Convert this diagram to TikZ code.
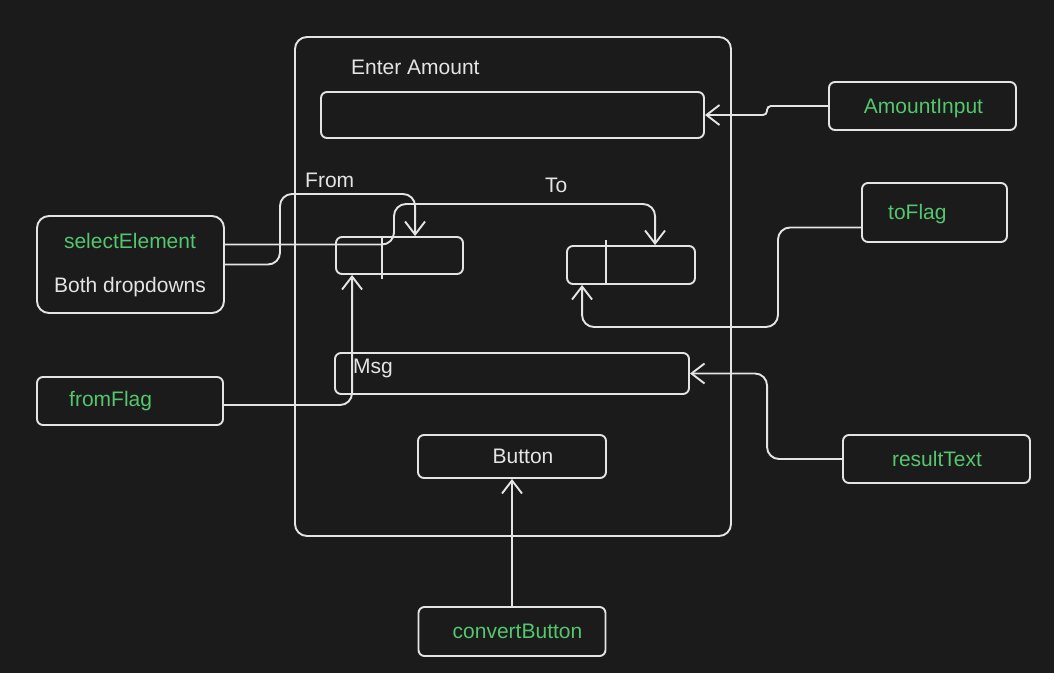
\documentclass[tikz,border=0pt]{standalone}
\usepackage{fontspec}
\setmainfont{Liberation Sans}
\usetikzlibrary{arrows.meta,calc}
\definecolor{bgc}{RGB}{27,27,27}
\definecolor{ink}{RGB}{228,228,228}
\definecolor{grn}{RGB}{84,198,110}

\begin{document}
\begin{tikzpicture}[x=1pt,y=-1pt,
		box/.style={draw=ink,line width=1.9pt,rounded corners=6pt,inner sep=0pt},
		txt/.style={text=ink,inner sep=0pt,font=\fontsize{21}{25}\selectfont},
		gtxt/.style={txt,text=grn},
		conn/.style={draw=ink,line width=1.9pt,rounded corners=12pt,-{Straight Barb[length=13pt,width=20pt]}}]
		\fill[bgc] (0,0) rectangle (1054,673);
		\useasboundingbox (0,0) rectangle (1054,673);
		% the form
		\node[box,rounded corners=12pt,minimum width=436pt,minimum height=499pt] (frame) at (513,286.5) {};
		\node[box,minimum width=383pt,minimum height=46pt] (amount) at (512.5,115) {};
		\node[box,minimum width=127pt,minimum height=37pt] (fromdd) at (399.5,255.5) {};
		\node[box,minimum width=128pt,minimum height=38pt] (todd) at (631,265) {};
		\node[box,minimum width=354pt,minimum height=41pt] (msg) at (512,373.5) {};
		\node[box,minimum width=188pt,minimum height=43pt] (btn) at (512,456.5) {};
		\draw[ink,line width=1.9pt] ([xshift=47pt]fromdd.north west) -- ++(0,43);
		\draw[ink,line width=1.9pt] ([xshift=40pt,yshift=5pt]todd.north west) -- ++(0,44);
		\node[txt,anchor=base west] (entertxt) at (351,74) {Enter Amount};
		\node[txt,anchor=base west] (fromtxt) at (305,187) {From};
		\node[txt,anchor=base west] (totxt) at (545,192) {To};
		\node[txt,anchor=base west] (msgtxt) at (353,373) {Msg};
		\node[txt,anchor=base] (btntxt) at (523,463) {Button};
		% the elements
		\node[box,rounded corners=12pt,minimum width=187pt,minimum height=97pt] (selel) at (130.5,264.5) {};
		\node[box,minimum width=186pt,minimum height=48pt] (fromflag) at (130,401) {};
		\node[box,minimum width=187pt,minimum height=48pt] (amtin) at (922.5,106) {};
		\node[box,minimum width=145pt,minimum height=59pt] (toflag) at (934.5,212.5) {};
		\node[box,minimum width=187pt,minimum height=48pt] (restext) at (936.5,459) {};
		\node[box,minimum width=187pt,minimum height=49pt] (convbtn) at (512,631.5) {};
		\node[gtxt,anchor=base] (seltxt) at (130,248) {selectElement};
		\node[txt,anchor=base] (bothtxt) at (130,292) {Both dropdowns};
		\node[gtxt,anchor=base west] (fromflagtxt) at (69,406) {fromFlag};
		\node[gtxt,anchor=base] (amtintxt) at (923.5,113) {AmountInput};
		\node[gtxt,anchor=base west] (toflagtxt) at (888,219) {toFlag};
		\node[gtxt,anchor=base] (restxt) at (937,466) {resultText};
		\node[gtxt,anchor=base] (convtxt) at (517.5,638) {convertButton};
		% connectors
		\coordinate (amtjog) at (767,106);
		\coordinate (tobend) at (778,327);
		\coordinate (selup) at (394,204);
		\coordinate (seldown) at (280,194);
		\draw[conn,rounded corners=4pt] (amtin.west) -- (amtjog) |- (amount.east);
		\draw[conn] ([yshift=-15pt]toflag.west) -| (tobend) -| ([xshift=16pt]todd.south west);
		\draw[conn] (restext.west) -- ++(-75,0) |- (msg.east);
		\draw[conn] (convbtn.north) -- (btn.south);
		\draw[conn] ([yshift=-4pt]fromflag.east) -| ([xshift=17pt]fromdd.south west);
		\draw[conn] ([yshift=20pt]selel.east) -| (selup) -| ([xshift=89pt]todd.north west);
		\draw[conn] (selel.east) -| (seldown) -| ([xshift=80pt]fromdd.north west);
	\end{tikzpicture}
\end{document}
